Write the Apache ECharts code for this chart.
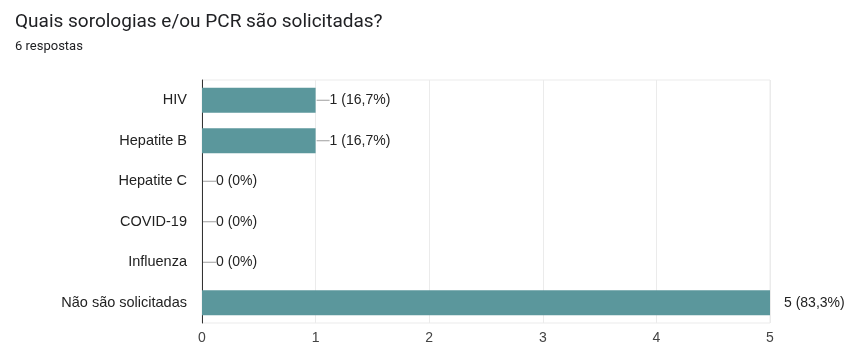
<!DOCTYPE html>
<html><head><meta charset="utf-8">
<script src="https://cdn.jsdelivr.net/npm/echarts@6/dist/echarts.min.js"></script>
<style>html,body{margin:0;padding:0;background:#fff}#c{width:846px;height:345px}</style>
</head><body><div id="c"></div>
<script>
const categories = ["HIV", "Hepatite B", "Hepatite C", "COVID-19", "Influenza", "Não são solicitadas"];
const counts = [1, 1, 0, 0, 0, 5];
const percents = ["16,7%", "16,7%", "0%", "0%", "0%", "83,3%"];
const xTicks = [0, 1, 2, 3, 4, 5];
const xMax = 5;

const F = 'Liberation Sans, Arial, sans-serif';
const chart = echarts.init(document.getElementById('c'), null, {renderer: 'canvas'});
const data = counts.map((v, i) => {
  const atEnd = v >= xMax;
  return {
    value: v,
    label: atEnd ? {
      formatter: v + ' (' + percents[i] + ')',
      distance: 14
    } : {
      formatter: '{ln|}{t|' + v + ' (' + percents[i] + ')}',
      distance: 1
    }
  };
});
chart.setOption({
  animation: false,
  title: {
    text: 'Quais sorologias e/ou PCR são solicitadas?',
    subtext: '6 respostas',
    left: 10, top: 8,
    itemGap: 8,
    textStyle: {fontFamily: 'Roboto', fontSize: 19, fontWeight: 'normal', color: '#202124'},
    subtextStyle: {fontFamily: 'Roboto', fontSize: 13, color: '#202124'}
  },
  grid: {left: 202, right: 76, top: 80, bottom: 22, show: true, borderColor: '#ebebeb', borderWidth: 1},
  xAxis: {
    type: 'value', min: 0, max: xMax, interval: 1,
    axisLine: {show: false}, axisTick: {show: false},
    splitLine: {lineStyle: {color: '#ebebeb'}},
    axisLabel: {fontFamily: F, fontSize: 14, color: '#444', margin: 8,
      formatter: v => xTicks.includes(v) ? String(v) : ''}
  },
  yAxis: {
    type: 'category', data: categories, inverse: true,
    axisLine: {show: true, lineStyle: {color: '#333', width: 1}},
    axisTick: {show: false},
    axisLabel: {fontFamily: F, fontSize: 14.5, color: '#222', margin: 15}
  },
  series: [{
    type: 'bar', data: data, barWidth: 25,
    itemStyle: {color: '#5b979c'},
    label: {
      show: true, position: 'right',
      fontFamily: F, fontSize: 14, color: '#222',
      rich: {
        ln: {width: 13, height: 1, backgroundColor: '#9e9e9e', verticalAlign: 'middle'},
        t: {fontFamily: F, fontSize: 14, color: '#222', verticalAlign: 'middle'}
      }
    }
  }]
});
</script></body></html>
